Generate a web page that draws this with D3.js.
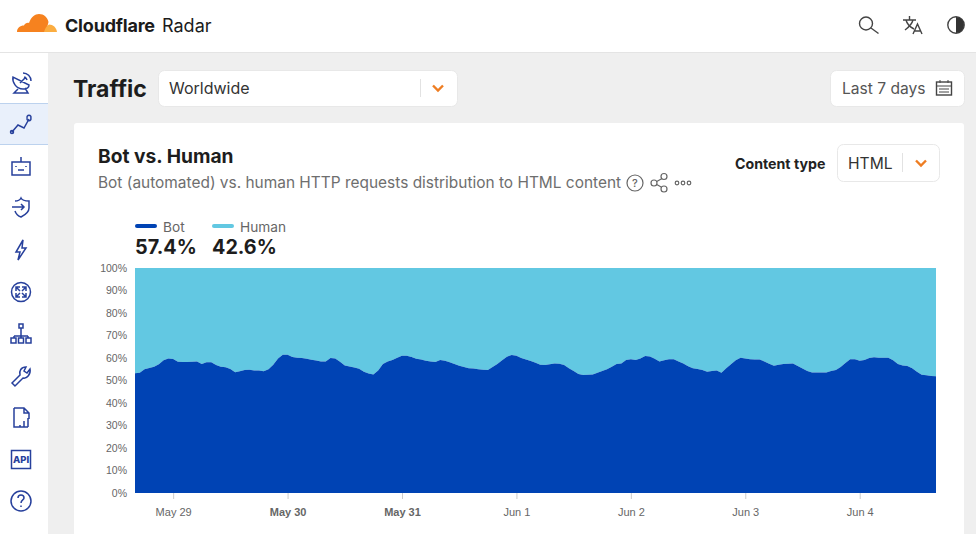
<!DOCTYPE html>
<html>
<head>
<meta charset="utf-8">
<script src="https://cdn.jsdelivr.net/npm/d3@7"></script>
<style>
  html, body { margin: 0; padding: 0; background: #efefef; overflow: hidden; }
  svg { display: block; font-family: Inter, "Noto Sans", sans-serif; }
  .tick-label text { font-family: "Liberation Sans", Arial, sans-serif; font-size: 10.5px; fill: #666; }
  .x-axis text { font-size: 11px; }
</style>
</head>
<body>
<svg id="page" width="976" height="534"></svg>
<script>
// Hourly bot share (%), first reading May 28 16:00
const botShare = [
  53.2, 53.5, 55.0, 55.6, 56.1, 57.2, 59.0, 59.8, 59.6, 58.3, 58.2, 58.2, 58.3, 58.5, 57.3, 58.1,
  58.1, 56.9, 56.1, 55.9, 55.1, 53.7, 54.1, 54.7, 54.8, 54.5, 54.4, 54.1, 55.0, 57.0, 59.8, 61.4,
  61.5, 60.5, 60.1, 60.0, 59.7, 59.2, 58.9, 58.4, 58.5, 60.0, 59.8, 58.3, 56.7, 56.2, 55.8, 55.2,
  53.9, 53.1, 52.7, 54.5, 57.3, 58.5, 59.1, 60.1, 61.0, 61.0, 60.4, 59.7, 59.3, 58.8, 58.5, 58.2,
  59.1, 58.8, 58.1, 57.3, 56.6, 56.0, 55.5, 55.3, 55.0, 54.8, 54.7, 56.0, 57.3, 59.0, 60.6, 61.3,
  61.0, 60.0, 59.3, 58.7, 57.9, 57.0, 56.9, 57.2, 57.6, 57.5, 56.9, 55.4, 54.2, 52.9, 52.4, 52.6,
  52.7, 53.5, 54.2, 55.0, 56.1, 57.3, 57.6, 59.1, 59.4, 59.1, 59.8, 60.9, 60.7, 59.7, 58.5, 59.0,
  59.5, 59.4, 58.5, 57.6, 56.3, 55.4, 55.1, 54.7, 53.9, 54.2, 54.5, 53.5, 55.4, 57.2, 59.0, 60.1,
  59.8, 59.4, 59.3, 59.3, 58.5, 57.5, 56.6, 57.0, 57.3, 57.5, 57.6, 56.4, 55.3, 54.2, 53.6, 53.6,
  53.6, 53.6, 54.2, 54.7, 56.0, 57.8, 59.4, 59.5, 58.8, 59.1, 60.0, 60.3, 60.1, 60.1, 60.1, 59.0,
  57.3, 56.7, 56.4, 55.4, 53.9, 52.6, 52.3, 52.0, 51.9
];
const yTicks = [0, 10, 20, 30, 40, 50, 60, 70, 80, 90, 100];
const boldDays = ['May 30', 'May 31'];
const legendNames = ['Bot', 'Human'];
const legendValues = ['57.4%', '42.6%'];

const BOT_COLOR = '#0043b4';
const HUMAN_COLOR = '#62c8e2';
const ICON_COLOR = '#27409c';

const svg = d3.select('#page');
const start = new Date(Date.UTC(2023, 4, 28, 16));
const times = botShare.map((d, i) => d3.utcHour.offset(start, i));

// page chrome
svg.append('rect').attr('width', 976).attr('height', 534).attr('fill', '#efefef');
svg.append('rect').attr('width', 976).attr('height', 52).attr('fill', '#fff');
svg.append('line').attr('x1', 0).attr('x2', 976).attr('y1', 52.5).attr('y2', 52.5).attr('stroke', '#e4e4e4');
svg.append('rect').attr('y', 53).attr('width', 48).attr('height', 481).attr('fill', '#fff');
svg.append('rect').attr('y', 104).attr('width', 48).attr('height', 40).attr('fill', '#e9f0fb');
svg.append('path').attr('d', 'M0,103.5H48M0,144.5H48').attr('stroke', '#bcd2ee');
svg.append('rect').attr('x', 74).attr('y', 123).attr('width', 890).attr('height', 420).attr('rx', 3).attr('fill', '#fff');

function box(x, y, w, h) {
  svg.append('rect').attr('x', x + .5).attr('y', y + .5).attr('width', w).attr('height', h)
    .attr('rx', 6).attr('fill', '#fff').attr('stroke', '#e8e8e8');
}
function label(x, y, str, size, weight, color) {
  return svg.append('text').attr('x', x).attr('y', y).text(str)
    .attr('font-size', size).attr('font-weight', weight).attr('fill', color);
}
function chevron(x, y) {
  svg.append('path').attr('d', `M${x - 5},${y - 2.5}L${x},${y + 2.5}L${x + 5},${y - 2.5}`)
    .attr('fill', 'none').attr('stroke', '#ee7d22').attr('stroke-width', 2.4);
}

box(158, 70, 299, 36);
box(830, 70, 134, 36);
box(837, 144, 102, 37);
svg.append('line').attr('x1', 420.5).attr('x2', 420.5).attr('y1', 79).attr('y2', 97).attr('stroke', '#e2e2e2');
svg.append('line').attr('x1', 902.5).attr('x2', 902.5).attr('y1', 153).attr('y2', 172).attr('stroke', '#e2e2e2');
chevron(438, 88);
chevron(921, 163);

// logo
svg.append('path')
  .attr('d', 'M17,32C17,28 20,25.5 24,25.5C25,23.5 27,22.5 29,23C31,17 35,14 39,14C44,14 47.5,17.5 48.5,22L46,32Z')
  .attr('fill', '#f6821f');
svg.append('path')
  .attr('d', 'M44,32C45,29 46,26 49,24.5C53,24.5 56.5,27.5 57,32Z')
  .attr('fill', '#fbad41');
label(65, 32, 'Cloudflare', 18, 700, '#1b1b1b').attr('letter-spacing', -0.2);
label(162, 32, 'Radar', 18, 400, '#1b1b1b');

// header text
label(73, 97, 'Traffic', 23, 700, '#1d1d1d');
label(169, 94, 'Worldwide', 16, 400, '#333');
label(842, 94, 'Last 7 days', 15.6, 400, '#555');
label(98, 163, 'Bot vs. Human', 19.2, 700, '#1d1d1d');
label(98, 188, 'Bot (automated) vs. human HTTP requests distribution to HTML content', 15.45, 400, '#6e6e6e');
label(735, 169, 'Content type', 14.2, 700, '#222');
label(848, 169, 'HTML', 15.6, 400, '#333');

// top right icons and small actions
const toolIcons = svg.append('g').attr('fill', 'none').attr('stroke', '#444').attr('stroke-width', 1.4);
toolIcons.append('circle').attr('cx', 866).attr('cy', 23.5).attr('r', 6.5);
toolIcons.append('path').attr('d', 'M871,28L878.5,33.5');
toolIcons.append('path').attr('d', 'M903,20H916M909.5,16V20M905,30C909,27 912,24 913,20M906,20C907,24 910,27 914,29');
toolIcons.append('path').attr('d', 'M913,34L917.5,24L922,34M914.5,31H920.5');
toolIcons.append('circle').attr('cx', 956).attr('cy', 25).attr('r', 8.2);
svg.append('path').attr('d', 'M956,17A8,8 0 0,1 956,33Z').attr('fill', '#333');
toolIcons.append('rect').attr('x', 936.5).attr('y', 82).attr('width', 15).attr('height', 13);
toolIcons.append('path').attr('d', 'M936.5,86H951.5M940,80V83M948,80V83M939,89H949M939,92H949')
  .attr('stroke-width', 1);

const actions = svg.append('g').attr('fill', 'none').attr('stroke', '#666').attr('stroke-width', 1.2);
actions.append('circle').attr('cx', 635).attr('cy', 183).attr('r', 8);
label(635, 187, '?', 11, 500, '#666').attr('text-anchor', 'middle');
actions.append('path').attr('d', 'M654,183L663,178M654,183L663,188');
[[654, 183], [664, 176.5], [664, 189]].forEach(p => {
  actions.append('circle').attr('cx', p[0]).attr('cy', p[1]).attr('r', 3).attr('fill', '#fff');
});
[677, 683, 689].forEach(x => actions.append('circle').attr('cx', x).attr('cy', 183).attr('r', 1.8));

// sidebar icons
const sideIcons = [
  { y: 83, d: 'M-8,-6C-9,-1 -5,6 2,6C6,6 8,4 8,2ZM-1,0L5,-6M-3,6L-7,10H7L4,5M2,-10A8,8 0 0,1 10,-2M3,-6A4,4 0 0,1 6,-3' },
  { y: 124, d: 'M-9,8L-3,1L3,4L8,-5M-9,8m-1.5,0a1.5,1.5 0 1,0 3,0a1.5,1.5 0 1,0 -3,0M8,-5m-1.8,-1a2,2 0 1,0 3.6,0a2,2 0 1,0 -3.6,0' },
  { y: 166, d: 'M-9,-4H9V9H-9ZM0,-4V-9M-3,4H3M-5,0V1M5,0V1' },
  { y: 207, d: 'M-6,-6C-3,-6 -1,-7 0,-9C1,-7 4,-6 8,-6V1C8,5 4,8 0,10C-3,9 -5,7 -6,4M-9,0H3M0,-3L3,0L0,3' },
  { y: 250, d: 'M2,-10L-5,2H-1L-3,10L5,-2H1Z' },
  { y: 292, d: 'M-9.5,0a9.5,9.5 0 1,0 19,0a9.5,9.5 0 1,0 -19,0M-5,-5L-1,-1M-5,-1V-5H-1M5,5L1,1M5,1V5H1M5,-5L1,-1M5,-1V-5H1M-5,5L-1,1M-5,1V5H-1' },
  { y: 334, d: 'M-2,-10H2V-6H-2ZM0,-6V2M-7,2H7M-7,2V4M0,2V4M7,2V4M-10,4H-5V9H-10ZM-2.5,4H2.5V9H-2.5ZM5,4H10V9H5Z' },
  { y: 376, d: 'M-9,7L-1,-1C-2,-5 0,-9 5,-9L3,-5L6,-3L9,-7C10,-2 6,3 2,2L-6,10Z' },
  { y: 418, d: 'M-7,-10H3L8,-5V1M3,-10V-5H8M-7,-10V9H7M-1,9V7M3,9V3M7,9V0' },
  { y: 501, d: 'M-10,0a10,10 0 1,0 20,0a10,10 0 1,0 -20,0M-3,-3C-3,-7 3,-7 3,-3C3,-1 0,-1 0,2M0,4.5V6' }
];
const sideGroup = svg.append('g').attr('fill', 'none').attr('stroke', ICON_COLOR).attr('stroke-width', 1.5);
sideGroup.selectAll('path').data(sideIcons).join('path')
  .attr('transform', d => `translate(21,${d.y})`).attr('d', d => d.d);
svg.append('rect').attr('x', 11.5).attr('y', 450.5).attr('width', 19).attr('height', 18)
  .attr('fill', 'none').attr('stroke', ICON_COLOR).attr('stroke-width', 1.5);
label(21, 463, 'API', 9.5, 800, ICON_COLOR).attr('text-anchor', 'middle');

// legend
const legendX = [135, 212];
const legendColors = [BOT_COLOR, HUMAN_COLOR];
legendNames.forEach((name, i) => {
  svg.append('line').attr('x1', legendX[i] + 2).attr('x2', legendX[i] + 20).attr('y1', 226).attr('y2', 226)
    .attr('stroke', legendColors[i]).attr('stroke-width', 4).attr('stroke-linecap', 'round');
  label(legendX[i] + 28, 232, name, 13.7, 400, '#666');
  label(legendX[i], 254, legendValues[i], 19.8, 700, '#1d1d1d');
});

// chart
const x = d3.scaleUtc().domain([times[0], times[times.length - 1]]).range([135, 936]);
const y = d3.scaleLinear().domain([0, 100]).range([493, 268]);

const humanArea = d3.area().x((d, i) => x(times[i])).y0(d => y(d)).y1(y(100));
const botArea = d3.area().x((d, i) => x(times[i])).y0(y(0)).y1(d => y(d));

svg.append('path').attr('d', humanArea(botShare)).attr('fill', HUMAN_COLOR);
svg.append('path').attr('d', botArea(botShare)).attr('fill', BOT_COLOR);

const yAxis = d3.axisLeft(y).tickValues(yTicks).tickFormat(d => d + '%').tickSize(0).tickPadding(8);
const yG = svg.append('g').attr('class', 'tick-label').attr('transform', 'translate(135,0)').call(yAxis);
yG.select('.domain').remove();

const dayFormat = d3.utcFormat('%b %-d');
const xAxis = d3.axisBottom(x).ticks(d3.utcDay.every(1)).tickFormat(dayFormat).tickSize(6).tickPadding(9);
const xG = svg.append('g').attr('class', 'tick-label x-axis').attr('transform', 'translate(0,493)').call(xAxis);
xG.select('.domain').remove();
xG.selectAll('line').attr('stroke', '#ccc');
xG.selectAll('text').attr('font-weight', d => boldDays.includes(dayFormat(d)) ? 700 : 400);
</script>
</body>
</html>
